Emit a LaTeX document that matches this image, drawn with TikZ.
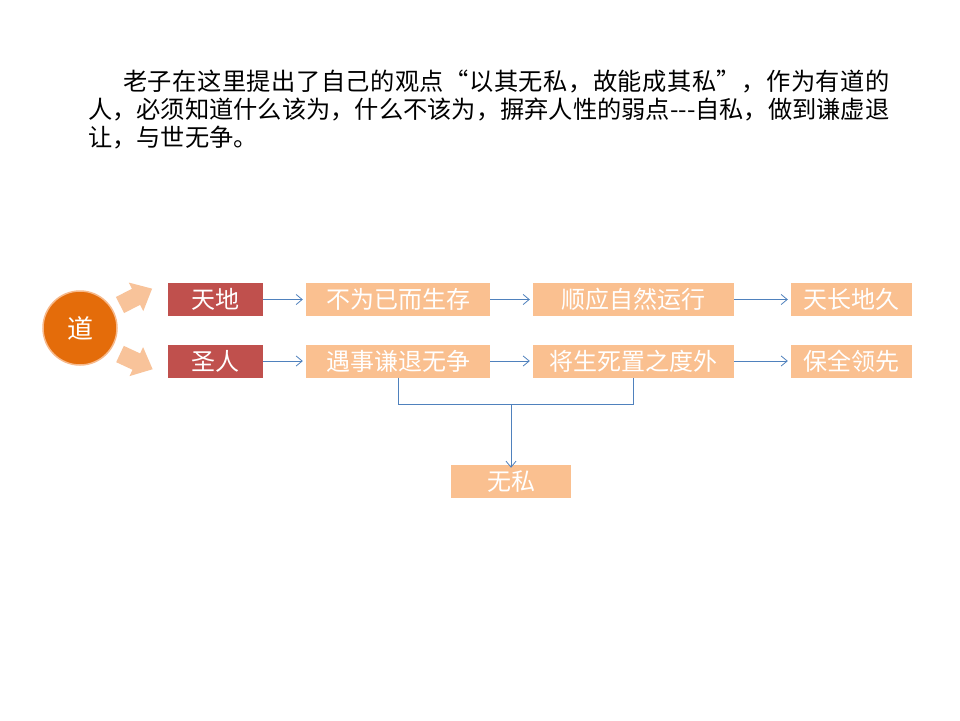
\documentclass[tikz,border=0pt]{standalone}
\usepackage{fontspec}
\usetikzlibrary{arrows.meta}
\setmainfont{Noto Sans CJK SC}
\newfontfamily\cjk{Noto Sans CJK SC}
\newfontfamily\cjkwide[LetterSpace=2]{Noto Sans CJK SC}
\definecolor{peach}{HTML}{FAC090}
\definecolor{redbox}{HTML}{C0504D}
\definecolor{daoorange}{HTML}{E46C0A}
\definecolor{daoring}{HTML}{F7B98B}
\definecolor{linkblue}{HTML}{4F81BD}
\definecolor{arrowfill}{HTML}{F8C39A}
\begin{document}
\begin{tikzpicture}[x=1pt,y=-1pt,
  para/.style={anchor=west,inner sep=0pt,font=\cjk\fontsize{24.25}{28}\selectfont,text=black},
  redb/.style={fill=redbox,text=white,minimum width=95pt,minimum height=33pt,inner sep=0pt,font=\cjk\fontsize{24}{26}\selectfont},
  peachb/.style={fill=peach,text=white,minimum height=33pt,inner sep=0pt,font=\cjk\fontsize{24}{26}\selectfont},
  link/.style={draw=linkblue,line width=0.8pt},
  linkarrow/.style={link,-{Straight Barb[length=6pt,width=10pt]}},
  blockarrow/.style={fill=arrowfill,draw=none}
]
\useasboundingbox (0,0) rectangle (960,720);
\fill[white] (0,0) rectangle (960,720);

% paragraph
\node[para,font=\cjkwide\fontsize{24.25}{28}\selectfont] (l1) at (123,82) {老子在这里提出了自己的观点“以其无私，故能成其私”，作为有道的};
\node[para] (l2) at (88,110) {人，必须知道什么该为，什么不该为，摒弃人性的弱点---自私，做到谦虚退};
\node[para] (l3) at (88,138) {让，与世无争。};

% Dao circle
\node[circle,fill=daoorange,draw=daoring,line width=1.5pt,minimum size=74pt,inner sep=0pt,
  text=white,font=\cjk\fontsize{26}{28}\selectfont] (dao) at (80,328) {道};

% block arrows
\begin{scope}[shift={(120,305)},rotate=27]
  \fill[blockarrow] (0,-9) -- (18,-9) -- (18,-16) -- (36,0) -- (18,16) -- (18,9) -- (0,9) -- cycle;
\end{scope}
\begin{scope}[shift={(120,354)},rotate=-25]
  \fill[blockarrow] (0,-9) -- (18,-9) -- (18,-16) -- (36,0) -- (18,16) -- (18,9) -- (0,9) -- cycle;
\end{scope}

% row 1
\node[redb] (tiandi) at (215.5,299.5) {天地};
\node[peachb,minimum width=184pt] (a1) at (398,299.5) {不为已而生存};
\node[peachb,minimum width=201pt] (a2) at (633.5,299.5) {顺应自然运行};
\node[peachb,minimum width=121pt] (a3) at (851.5,299.5) {天长地久};

% row 2
\node[redb] (shengren) at (215.5,361) {圣人};
\node[peachb,minimum width=184pt] (b1) at (398,361) {遇事谦退无争};
\node[peachb,minimum width=201pt] (b2) at (633.5,361) {将生死置之度外};
\node[peachb,minimum width=121pt] (b3) at (851.5,361) {保全领先};

% result
\node[peachb,minimum width=120pt,minimum height=33pt] (wusi) at (511,481.5) {无私};

% connectors
\draw[linkarrow] (tiandi.east) -- ([xshift=-3pt]a1.west);
\draw[linkarrow] (a1.east) -- ([xshift=-3pt]a2.west);
\draw[linkarrow] (a2.east) -- ([xshift=-3pt]a3.west);
\draw[linkarrow] (shengren.east) -- ([xshift=-3pt]b1.west);
\draw[linkarrow] (b1.east) -- ([xshift=-3pt]b2.west);
\draw[linkarrow] (b2.east) -- ([xshift=-3pt]b3.west);

\coordinate (bl) at (b1.south |- 0,404);
\coordinate (br) at (b2.south |- 0,404);
\coordinate (bm) at (wusi.north |- 0,404);
\draw[link] (b1.south) -- (bl) -- (br) -- (b2.south);
\draw[linkarrow] (bm) -- ([yshift=-3pt]wusi.north);
\end{tikzpicture}
\end{document}
